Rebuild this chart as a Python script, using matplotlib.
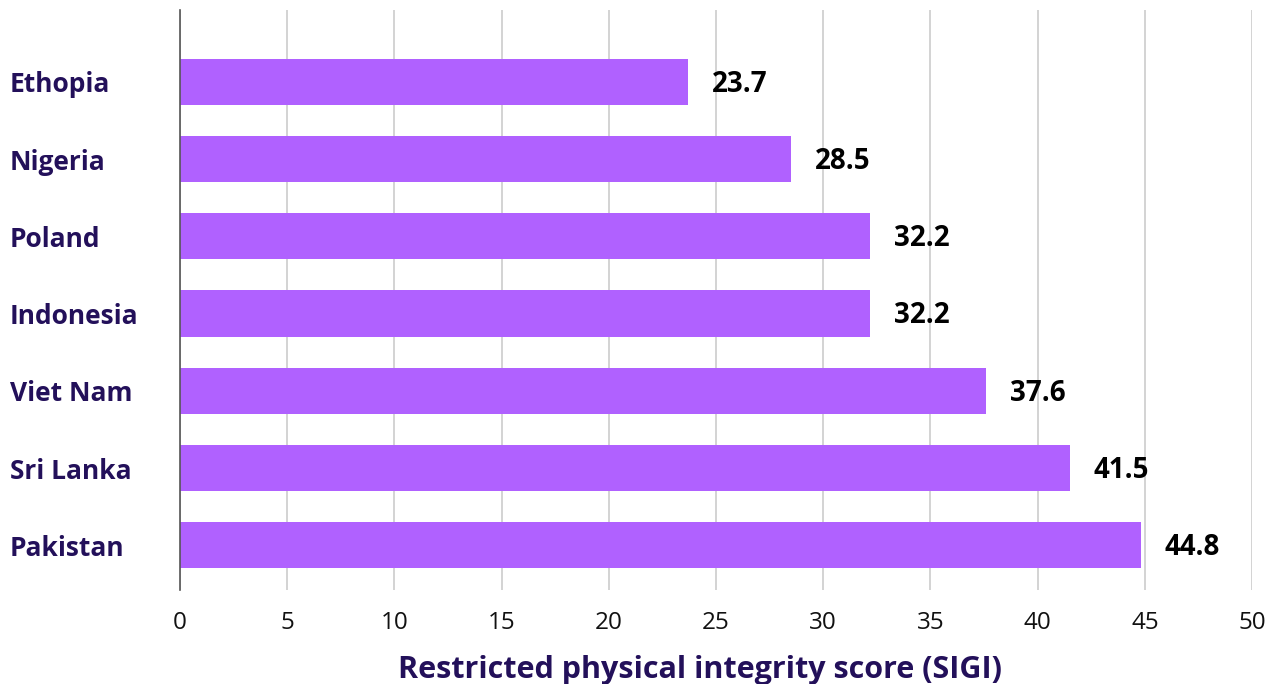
import matplotlib
matplotlib.use("Agg")
import matplotlib.pyplot as plt
import matplotlib.transforms as mtransforms

COUNTRIES = ["Ethopia", "Nigeria", "Poland", "Indonesia", "Viet Nam", "Sri Lanka", "Pakistan"]
SCORES = [23.7, 28.5, 32.2, 32.2, 37.6, 41.5, 44.8]
X_TICKS = [0, 5, 10, 15, 20, 25, 30, 35, 40, 45, 50]
X_LABEL = "Restricted physical integrity score (SIGI)"

BAR_COLOR = "#B061FF"
LABEL_COLOR = "#23105A"
OUT_FILE = "out.png"


def main():
    plt.rcParams["font.family"] = ["Open Sans", "DejaVu Sans"]
    fig = plt.figure(figsize=(12.76, 6.84), dpi=100)
    ax = fig.add_axes([0.1411, 0.1374, 0.8401, 0.848])

    ypos = list(range(len(COUNTRIES)))
    ax.barh(ypos, SCORES, height=0.6, color=BAR_COLOR, zorder=3)

    ax.set_xlim(0, 50)
    ax.set_ylim(6.58, -0.93)
    ax.set_xticks(X_TICKS)
    ax.set_xticklabels([str(t) for t in X_TICKS], fontsize=17.5, color="#111111")
    ax.tick_params(axis="x", length=0, pad=15)
    ax.set_yticks([])
    ax.grid(axis="x", color="#cccccc", linewidth=1.2, zorder=0)

    for side in ("top", "right", "bottom"):
        ax.spines[side].set_visible(False)
    ax.spines["left"].set_color("#555555")
    ax.spines["left"].set_linewidth(1.2)
    ax.spines["left"].set_zorder(4)

    # country names sit flush left in the margin
    trans = mtransforms.blended_transform_factory(fig.transFigure, ax.transData)
    for y, name in zip(ypos, COUNTRIES):
        ax.text(10 / 1276, y + 0.04, name, transform=trans, ha="left", va="center",
                fontsize=19, fontweight="bold", color=LABEL_COLOR)

    for y, v in zip(ypos, SCORES):
        ax.annotate(f"{v:.1f}", (v, y + 0.03), xytext=(17, 0), textcoords="offset points",
                    ha="left", va="center", fontsize=20, fontweight="bold",
                    color="#000000")

    fig.text(700 / 1276, 1 - 670 / 684, X_LABEL, ha="center", va="center",
             fontsize=22, fontweight="bold", color=LABEL_COLOR)

    fig.savefig(OUT_FILE, dpi=100)


if __name__ == "__main__":
    main()
